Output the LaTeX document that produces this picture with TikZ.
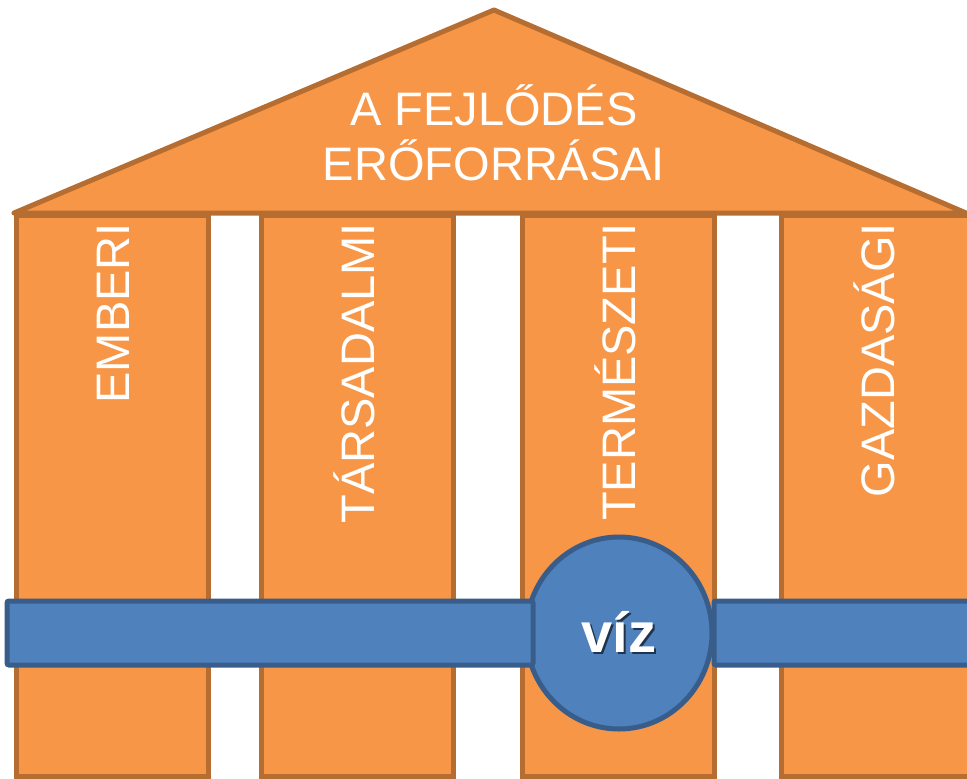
\documentclass[tikz,border=0pt]{standalone}
\usepackage{fontspec}
\setmainfont{Liberation Sans}
\usetikzlibrary{positioning,shapes.geometric}
\definecolor{oszlop}{HTML}{F79646}
\definecolor{oszlopvonal}{HTML}{B66D31}
\definecolor{vizkek}{HTML}{4F81BD}
\definecolor{vizvonal}{HTML}{385D8A}

\begin{document}
\begin{tikzpicture}[x=1pt,y=-1pt,
                    column/.style={fill=oszlop,draw=oszlopvonal,line width=5pt},
                    bar/.style={fill=vizkek,draw=vizvonal,line width=5pt,rounded corners=2pt},
                    felirat/.style={text=white,inner sep=0pt,font=\fontsize{47}{55}\selectfont},
                    oszlopnev/.style={felirat,rotate=90,anchor=base east},
                    vizbetu/.style={inner sep=0pt,anchor=base,font=\bfseries\fontsize{56}{60}\selectfont}]

\clip (0,0) rectangle (967,779);

%columns
\draw [column] (16,215) rectangle (208,776);
\draw [column] (261,215) rectangle (453,776);
\draw [column] (522,215) rectangle (714,776);
\draw [column] (781,215) rectangle (973,776);

%roof
\draw [column,line join=round] (14,213) -- (494,10) -- (966,213) -- cycle;
\node [felirat,align=center,anchor=base] (cim) at (494,180) {A FEJLŐDÉS\\ERŐFORRÁSAI};

%column names
\node [oszlopnev] (emberi) at (129,223) {EMBERI};
\node [oszlopnev] (tarsadalmi) at (374,223) {TÁRSADALMI};
\node [oszlopnev] (termeszeti) at (635,223) {TERMÉSZETI};
\node [oszlopnev] (gazdasagi) at (894,223) {GAZDASÁGI};

%water
\node [ellipse,fill=vizkek,draw=vizvonal,line width=5pt,minimum width=186pt,minimum height=192pt,inner sep=0pt] (viz) at (619,633) {};
\draw [bar] (7,601) rectangle (533,665);
\draw [bar] (714,601) rectangle (990,665);
\node [vizbetu,text=white] (vizfelirat) at (619,652)
  {\rlap{\kern2pt\raisebox{-2.5pt}{\color{vizvonal!55!black}víz}}víz};

\end{tikzpicture}
\end{document}
